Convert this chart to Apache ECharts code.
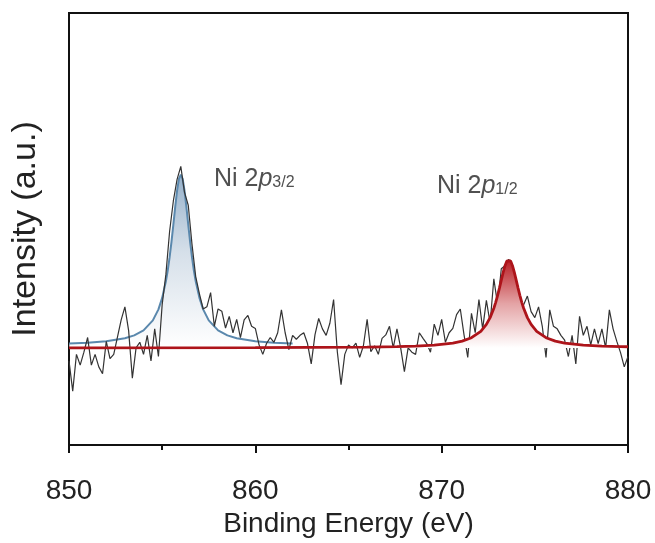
<!DOCTYPE html>
<html>
<head>
<meta charset="utf-8">
<script src="https://cdn.jsdelivr.net/npm/echarts@6/dist/echarts.min.js"></script>
<style>
html,body{margin:0;padding:0;background:#fff;}
#chart{width:655px;height:543px;}
</style>
</head>
<body>
<div id="chart"></div>
<script>
// ---- data ----
const xTicks = [850, 860, 870, 880];
const rawStart = 850;
const rawStep = 0.2;
const rawIntensity = [
  -3, -10, -1.5, -4, -1, 2.4, -4, -1.5, -4.4, -6,
  1.5, -2.5, -1.5, 2.5, 6.5, 9.5, 4, -7, 0, 1.3,
  -1.5, 2.9, -3, 4.4, -2, 10, 17, 27, 34, 39,
  42, 36, 33, 24, 16.5, 12.5, 9, 9.5, 12.8, 5,
  9, 8.5, 4.6, 7.3, 3.5, 6.6, 2.4, 6.5, 7.5, 5,
  4.5, 0.7, -1.5, 1, 2.4, 1.3, 3.5, 8.8, 3.5, -0.4,
  2.9, 2, 2.9, 3.5, 1, -3.7, 3, 6.8, 4.4, 2.9,
  5.7, 11.2, -0.9, -8.5, -1.5, 0.7, 0, 1.1, -2.2, 0.5,
  6.6, -0.9, 0.5, -1.5, 2.2, 3, 5, 0, 4.4, 0,
  -5.5, 0, -1, -1.5, 3.5, 2.2, 1, -1, 5.5, 2.9,
  6.6, 1.3, 3.5, 4.5, 7.7, 9, 3, -2.2, 8, 3.5,
  11.2, 4.4, 11, 5.7, 16, 10, 18.3, 19, 20.5, 18,
  14, 8, 10, 12, 8.4, 7, 9.5, 5, -2.2, 8.8,
  5, 4.4, 2.9, 1.8, -2, 2.9, -3.7, 7.3, 2.9, 5,
  0.7, 4.4, 1, 4.4, 0, 8.8, 4.4, 1.5, -1.1, -4.4,
  -2
];
const fit1Energy = [850, 851, 852, 853, 853.5, 854, 854.5, 854.8, 855, 855.2, 855.3, 855.4, 855.5, 855.6, 855.7, 855.8, 855.9, 856, 856.1, 856.2, 856.3, 856.4, 856.5, 856.6, 856.7, 856.8, 857, 857.2, 857.5, 858, 858.5, 859, 860, 861, 862];
const fit1Intensity = [0.42, 0.60, 0.93, 1.62, 2.29, 3.46, 5.76, 8.32, 10.97, 14.82, 17.36, 20.39, 23.94, 27.9, 32.01, 35.78, 38.5, 39.5, 38.5, 35.78, 32.01, 27.9, 23.94, 20.39, 17.36, 14.82, 10.97, 8.32, 5.76, 3.46, 2.29, 1.62, 0.93, 0.60, 0.42];
const fit1Baseline = 0.6;
const fit2Energy = [850, 860, 866, 867.6, 868.6, 869.6, 870.6, 871.1, 871.6, 872.1, 872.4, 872.6, 872.8, 872.9, 873.0, 873.1, 873.2, 873.3, 873.4, 873.5, 873.6, 873.7, 873.8, 873.9, 874.0, 874.1, 874.2, 874.3, 874.4, 874.6, 874.8, 875.1, 875.6, 876.1, 876.6, 877.6, 878.6, 879.6, 880];
const fit2Intensity = [0.02, 0.06, 0.18, 0.29, 0.42, 0.64, 1.12, 1.57, 2.35, 3.84, 5.43, 7.00, 9.17, 10.54, 12.10, 13.83, 15.67, 17.47, 19.03, 20.11, 20.5, 20.11, 19.03, 17.47, 15.67, 13.83, 12.10, 10.54, 9.17, 7.00, 5.43, 3.84, 2.35, 1.57, 1.12, 0.64, 0.42, 0.29, 0.26];

// ---- build ----
const rawData = rawIntensity.map((v, i) => [+(rawStart + i * rawStep).toFixed(2), v]);
const fit1Data = fit1Energy.map((e, i) => [e, fit1Intensity[i] + fit1Baseline]);
const fit2Data = fit2Energy.map((e, i) => [e, fit2Intensity[i]]);

const FONT = '"Liberation Sans", Arial, sans-serif';
const chart = echarts.init(document.getElementById('chart'), null, {renderer: 'canvas'});
const richStyle = {
  a: {fontSize: 25, fontFamily: FONT, color: '#505050', padding: [0, 0, 6, 0]},
  b: {fontSize: 25, fontFamily: FONT, color: '#505050', fontStyle: 'italic', padding: [0, 0, 6, 0]},
  c: {fontSize: 16, fontFamily: FONT, color: '#505050'}
};
chart.setOption({
  animation: false,
  backgroundColor: '#fff',
  grid: {left: 69, right: 27, top: 13, bottom: 77, show: true, borderColor: '#111', borderWidth: 2, backgroundColor: 'transparent'},
  xAxis: {
    type: 'value', min: xTicks[0], max: xTicks[xTicks.length - 1], interval: 10,
    axisLine: {show: true, onZero: false, lineStyle: {color: '#111', width: 2}},
    axisTick: {show: true, inside: false, length: 8, lineStyle: {color: '#111', width: 2}},
    minorTick: {show: true, splitNumber: 2, length: 5, lineStyle: {color: '#111', width: 2}},
    splitLine: {show: false},
    axisLabel: {color: '#222', fontSize: 28, fontFamily: FONT, margin: 32},
    name: 'Binding Energy (eV)', nameLocation: 'middle', nameGap: 47,
    nameTextStyle: {color: '#222', fontSize: 28, fontFamily: FONT}
  },
  yAxis: {
    type: 'value', min: -22.5, max: 77.5,
    axisLine: {show: true, lineStyle: {color: '#111', width: 2}},
    axisTick: {show: false}, axisLabel: {show: false}, splitLine: {show: false}
  },
  series: [
    {
      type: 'line', data: fit1Data, symbol: 'none', z: 2,
      lineStyle: {color: '#5a88ad', width: 2},
      areaStyle: {color: new echarts.graphic.LinearGradient(0, 0, 0, 1, [
        {offset: 0, color: '#6a90b4'}, {offset: 0.45, color: '#c4d2e0'}, {offset: 1, color: '#ffffff'}])}
    },
    {
      type: 'line', data: rawData, symbol: 'none', z: 3,
      lineStyle: {color: '#333', width: 1.2}
    },
    {
      type: 'line', data: fit2Data, symbol: 'none', z: 4,
      lineStyle: {color: '#ad141a', width: 2.8},
      areaStyle: {color: new echarts.graphic.LinearGradient(0, 0, 0, 1, [
        {offset: 0, color: '#b81c22'}, {offset: 0.5, color: '#e4a3a5'}, {offset: 1, color: '#ffffff'}]), opacity: 1}
    }
  ],
  graphic: [
    {
      type: 'text', x: 26, y: 229, rotation: Math.PI / 2,
      style: {text: 'Intensity (a.u.)', fontSize: 34, fontFamily: FONT, fill: '#222', textAlign: 'center', textVerticalAlign: 'middle'}
    },
    {
      type: 'text', x: 214, y: 167,
      style: {text: '{a|Ni 2}{b|p}{c|3/2}', fontFamily: FONT, fill: '#505050', rich: richStyle}
    },
    {
      type: 'text', x: 437, y: 174,
      style: {text: '{a|Ni 2}{b|p}{c|1/2}', fontFamily: FONT, fill: '#505050', rich: richStyle}
    }
  ]
});
</script>
</body>
</html>
